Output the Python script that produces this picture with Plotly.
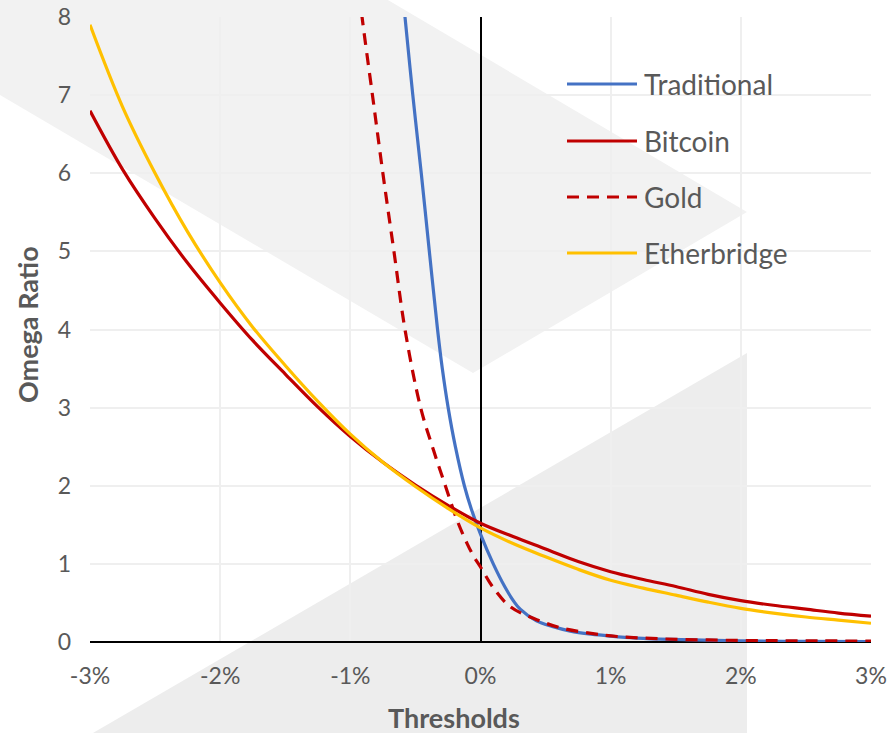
import plotly.graph_objects as go

# ---------------- data (x in %, y = Omega ratio) ----------------
x_common = [-3.0, -2.75, -2.5, -2.25, -2.0, -1.75, -1.5, -1.25, -1.0, -0.75, -0.5, -0.25,
            0.0, 0.25, 0.5, 0.75, 1.0, 1.25, 1.5, 1.75, 2.0, 2.25, 2.5, 2.75, 3.0]
bitcoin = [6.80, 6.05, 5.42, 4.85, 4.34, 3.86, 3.43, 3.01, 2.63, 2.30, 2.01, 1.75,
           1.52, 1.35, 1.19, 1.03, 0.90, 0.80, 0.71, 0.61, 0.53, 0.47, 0.42, 0.37, 0.33]
etherbridge = [7.90, 6.85, 6.00, 5.25, 4.60, 4.03, 3.54, 3.08, 2.66, 2.30, 1.99, 1.71,
               1.46, 1.26, 1.09, 0.93, 0.79, 0.69, 0.60, 0.51, 0.43, 0.37, 0.32, 0.28, 0.24]

x_traditional = [-0.60, -0.58, -0.52, -0.455, -0.39, -0.33, -0.2935, -0.2485, -0.193, -0.124,
                 -0.070, 0.00, 0.098, 0.189, 0.252, 0.305, 0.43, 0.55, 0.69, 0.85, 1.00,
                 1.20, 1.46, 2.00, 2.50, 3.00]
traditional = [8.35, 8.0, 7.0, 6.0, 4.95, 4.0, 3.5, 3.0, 2.5, 2.0,
               1.7, 1.38, 1.0, 0.70, 0.53, 0.42, 0.27, 0.20, 0.14, 0.10, 0.075,
               0.05, 0.033, 0.015, 0.008, 0.005]

x_gold = [-0.93, -0.91, -0.83, -0.75, -0.665, -0.58, -0.46, -0.36, -0.27, -0.18, -0.10,
          -0.05, 0.00, 0.10, 0.23, 0.41, 0.62, 0.85, 1.05, 1.40, 2.00, 2.50, 3.00]
gold = [8.3, 8.0, 7.0, 6.0, 5.0, 4.0, 3.0, 2.45, 2.0, 1.56, 1.25,
        1.09, 0.96, 0.69, 0.45, 0.30, 0.18, 0.11, 0.07, 0.04, 0.02, 0.015, 0.012]

x_ticks = [-3, -2, -1, 0, 1, 2, 3]
x_tick_labels = ["-3%", "-2%", "-1%", "0%", "1%", "2%", "3%"]
y_ticks = [0, 1, 2, 3, 4, 5, 6, 7, 8]

series_names = ["Traditional", "Bitcoin", "Gold", "Etherbridge"]
series_colors = ["#4472C4", "#C00000", "#C00000", "#FFC000"]
series_dash = ["solid", "solid", "12px,8px", "solid"]

# ---------------- layout geometry (page pixels) ----------------
W, H = 891, 733
L, R, T, B = 90, 871, 17, 642  # plot area in pixels


def px(xp):
    return (xp - L) / (R - L)


def py(yp):
    return (B - yp) / (B - T)


TEXT = "#595959"
FONT = "Lato"

fig = go.Figure()

xs = [x_traditional, x_common, x_gold, x_common]
ys = [traditional, bitcoin, gold, etherbridge]
for name, xv, yv, c, d in zip(series_names, xs, ys, series_colors, series_dash):
    fig.add_trace(go.Scatter(
        x=xv, y=yv, name=name, mode="lines",
        line=dict(color=c, width=3.2, dash=d, shape="spline", smoothing=1.0),
        showlegend=False,
    ))

shapes = []
# background watermark (decorative chevrons)
upper = [(0, -229), (747, 212), (473, 373), (0, 95)]
lower = [(93, 733), (747, 353), (747, 760), (60, 760)]
for poly, col in [(upper, "#f2f2f2"), (lower, "#ededed")]:
    path = "M " + " L ".join(f"{px(a):.4f},{py(b):.4f}" for a, b in poly) + " Z"
    shapes.append(dict(type="path", path=path, xref="paper", yref="paper",
                       fillcolor=col, line=dict(width=0), layer="below"))

# manual legend
legend_rows = [84, 141, 197, 253]
annotations = []
for name, c, d, yrow in zip(series_names, series_colors, series_dash, legend_rows):
    shapes.append(dict(type="line", xref="paper", yref="paper",
                       x0=px(567), x1=px(637), y0=py(yrow), y1=py(yrow),
                       line=dict(color=c, width=3.2, dash=d)))
    annotations.append(dict(x=px(642), y=py(yrow), xref="paper", yref="paper",
                            text=name, showarrow=False, xanchor="left", yanchor="middle",
                            font=dict(family=FONT, size=28, color=TEXT)))

# axis titles
annotations.append(dict(x=px(27), y=py(325), xref="paper", yref="paper",
                        text="<b>Omega Ratio</b>", showarrow=False, textangle=-90,
                        xanchor="center", yanchor="middle",
                        font=dict(family=FONT, size=27, color=TEXT)))
annotations.append(dict(x=px(454), y=py(717), xref="paper", yref="paper",
                        text="<b>Thresholds</b>", showarrow=False,
                        xanchor="center", yanchor="middle",
                        font=dict(family=FONT, size=27, color=TEXT)))

fig.update_layout(
    width=W, height=H,
    margin=dict(l=L, r=W - R, t=T, b=H - B, pad=0, autoexpand=False),
    paper_bgcolor="white",
    plot_bgcolor="rgba(0,0,0,0)",
    shapes=shapes,
    annotations=annotations,
    showlegend=False,
    font=dict(family=FONT, color=TEXT),
)
fig.update_xaxes(
    range=[-3, 3], tickvals=x_ticks, ticktext=x_tick_labels, automargin=False,
    showgrid=True, gridcolor="#efefef", gridwidth=1.5,
    zeroline=True, zerolinecolor="black", zerolinewidth=1.5,
    showline=False, ticks="", ticklabelstandoff=18, ticklabeloverflow="allow",
    tickfont=dict(family=FONT, size=23, color=TEXT),
)
fig.update_yaxes(
    range=[0, 8], tickvals=y_ticks, automargin=False,
    showgrid=True, gridcolor="#efefef", gridwidth=1.5,
    zeroline=True, zerolinecolor="black", zerolinewidth=2,
    showline=False, ticks="", ticklabelstandoff=18, ticklabeloverflow="allow",
    tickfont=dict(family=FONT, size=23, color=TEXT),
)

fig.write_html(
    "out.html",
    config={"displayModeBar": False},
    post_script="document.body.style.margin='0';document.body.style.overflow='hidden';",
)
